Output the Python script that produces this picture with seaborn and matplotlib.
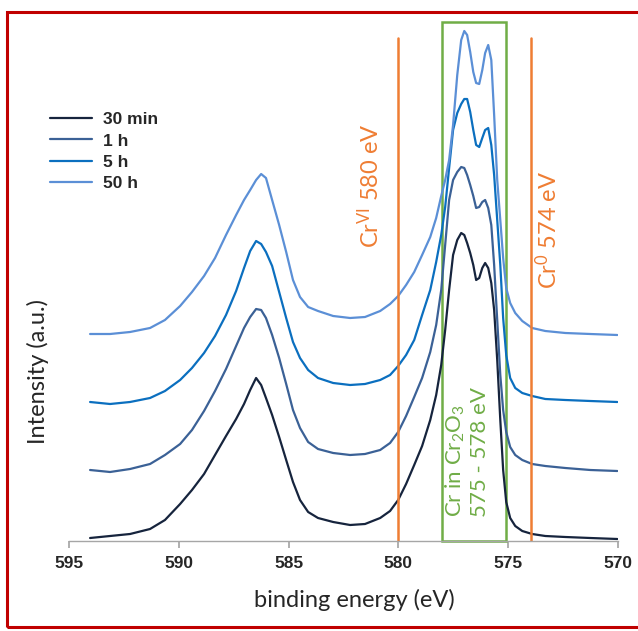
import matplotlib
matplotlib.use("Agg")
import matplotlib.pyplot as plt
import seaborn as sns
import pandas as pd
from matplotlib.patches import Rectangle

# binding energy grid (eV) and offset spectra (a.u.)
energy = [594.04, 593.13, 592.22, 591.31, 590.63, 589.94, 589.40, 588.85, 588.35, 587.85,
          587.39, 587.03, 586.75, 586.48, 586.25, 586.03, 585.75, 585.43, 585.11, 584.80,
          584.48, 584.11, 583.66, 582.97, 582.20, 581.52, 580.83, 580.38, 580.01, 579.65,
          579.28, 578.92, 578.55, 578.28, 578.05, 577.87, 577.69, 577.51, 577.32, 577.14,
          577.00, 576.87, 576.73, 576.59, 576.46, 576.32, 576.18, 576.05, 575.91, 575.77,
          575.64, 575.50, 575.36, 575.23, 575.09, 574.91, 574.68, 574.36, 573.91, 573.31,
          572.40, 571.26, 570.03]

int_30min = [3, 5, 7, 12, 21, 37, 51, 67, 86, 105,
             122, 137, 151, 163, 156, 143, 126, 104, 81, 59,
             41, 29, 23, 19, 16, 17, 23, 30, 41, 57,
             76, 95, 121, 146, 176, 211, 251, 286, 301, 308,
             306, 298, 288, 276, 261, 263, 273, 278, 273, 258,
             231, 181, 121, 71, 39, 23, 15, 10, 7, 5,
             4, 3, 2]
int_1h = [71, 69, 72, 77, 86, 97, 111, 130, 150, 172,
          195, 213, 224, 232, 231, 223, 206, 183, 157, 131,
          113, 99, 92, 88, 86, 87, 91, 98, 109, 125,
          144, 163, 189, 216, 251, 296, 341, 361, 369, 374,
          373, 366, 356, 345, 333, 334, 339, 341, 333, 316,
          276, 221, 166, 131, 109, 94, 86, 81, 77, 75,
          73, 71, 70]
int_5h = [139, 137, 139, 143, 150, 161, 173, 188, 205, 226,
          250, 273, 290, 300, 297, 289, 275, 249, 223, 199,
          183, 171, 163, 158, 156, 157, 161, 166, 175, 186,
          201, 226, 251, 279, 306, 334, 373, 411, 428, 437,
          442, 442, 429, 411, 396, 394, 403, 411, 413, 396,
          366, 321, 276, 223, 186, 163, 153, 148, 145, 142,
          141, 140, 139]
int_50h = [207, 207, 209, 213, 221, 235, 249, 265, 283, 306,
           326, 341, 351, 361, 367, 363, 341, 316, 289, 261,
           244, 234, 230, 225, 223, 224, 230, 237, 245, 256,
           269, 286, 304, 323, 345, 361, 381, 416, 466, 501,
           510, 506, 489, 469, 458, 457, 471, 488, 496, 481,
           426, 361, 321, 283, 253, 238, 228, 220, 213, 210,
           208, 207, 206]

series = ["30 min", "1 h", "5 h", "50 h"]
colors = ["#16243d", "#3b6196", "#0b6fbf", "#5b8fd6"]

cr6_energy = 580.0
cr0_energy = 573.95
box_lo, box_hi = 575.1, 578.0


def main():
    sns.set_theme(style="white")
    plt.rcParams["font.family"] = ["Liberation Sans", "DejaVu Sans"]
    plt.rcParams["mathtext.default"] = "regular"

    df = pd.concat([
        pd.DataFrame({"energy": energy, "intensity": vals, "time": name})
        for name, vals in zip(series, [int_30min, int_1h, int_5h, int_50h])
    ])

    fig = plt.figure(figsize=(6.38, 6.31), dpi=100)
    ax = fig.add_axes([69 / 638, 1 - 541 / 631, 549 / 638, 519 / 631])

    sns.lineplot(data=df, x="energy", y="intensity", hue="time",
                 palette=dict(zip(series, colors)), estimator=None,
                 linewidth=1.6, ax=ax)

    ax.set_xlim(595, 570)
    ax.set_ylim(0, 519)
    ax.set_xticks([595, 590, 585, 580, 575, 570])
    ax.set_yticks([])
    for s in ["left", "top", "right"]:
        ax.spines[s].set_visible(False)
    ax.spines["bottom"].set_color("#a6a6a6")
    ax.spines["bottom"].set_linewidth(1.0)
    ax.tick_params(axis="x", bottom=True, direction="out", length=5,
                   color="#a6a6a6", labelsize=12.5, pad=6)
    for lab in ax.get_xticklabels():
        lab.set_fontweight("bold")

    orange = "#ef7d33"
    green = "#70ad47"
    ax.plot([cr6_energy, cr6_energy], [0, 503], color=orange, lw=1.8)
    ax.plot([cr0_energy, cr0_energy], [0, 503], color=orange, lw=1.8)
    ax.add_patch(Rectangle((box_hi, 0), box_lo - box_hi, 519, fill=False,
                           edgecolor=green, lw=1.8, clip_on=False))

    lato = ["Lato", "DejaVu Sans"]
    ax.text(581.33, 355, "Cr$^{VI}$ 580 eV", rotation=90, color=orange,
            ha="center", va="center", fontsize=17, family=lato)
    ax.text(573.22, 311, "Cr$^{0}$ 574 eV", rotation=90, color=orange,
            ha="center", va="center", fontsize=17, family=lato)
    ax.text(577.41, 24, "Cr in Cr$_{2}$O$_{3}$", rotation=90, color=green,
            ha="center", va="bottom", fontsize=16, family=lato)
    ax.text(576.28, 24, "575 - 578 eV", rotation=90, color=green,
            ha="center", va="bottom", fontsize=16, family=lato)

    ax.set_xlabel("")
    ax.set_ylabel("")
    fig.text(354 / 638, 1 - 600 / 631, "binding energy (eV)", ha="center",
             va="center", fontsize=17, family=lato)
    fig.text(38 / 638, 1 - 372 / 631, "Intensity (a.u.)", ha="center",
             va="center", rotation=90, fontsize=17, family=lato)

    ax.legend(loc="upper left", bbox_to_anchor=(50 / 638, 1 - 112 / 631),
              bbox_transform=fig.transFigure, frameon=False, borderpad=0,
              borderaxespad=0, handlelength=2.4, handletextpad=0.65,
              labelspacing=0.36, prop={"weight": "bold", "size": 12.5})

    fig.patches.append(Rectangle((7 / 638, 1 - 627 / 631), 640 / 638,
                                 615 / 631, transform=fig.transFigure,
                                 fill=False, edgecolor="#c00000", lw=2.2))

    fig.savefig("out.png", dpi=100)
    plt.close(fig)


if __name__ == "__main__":
    main()
